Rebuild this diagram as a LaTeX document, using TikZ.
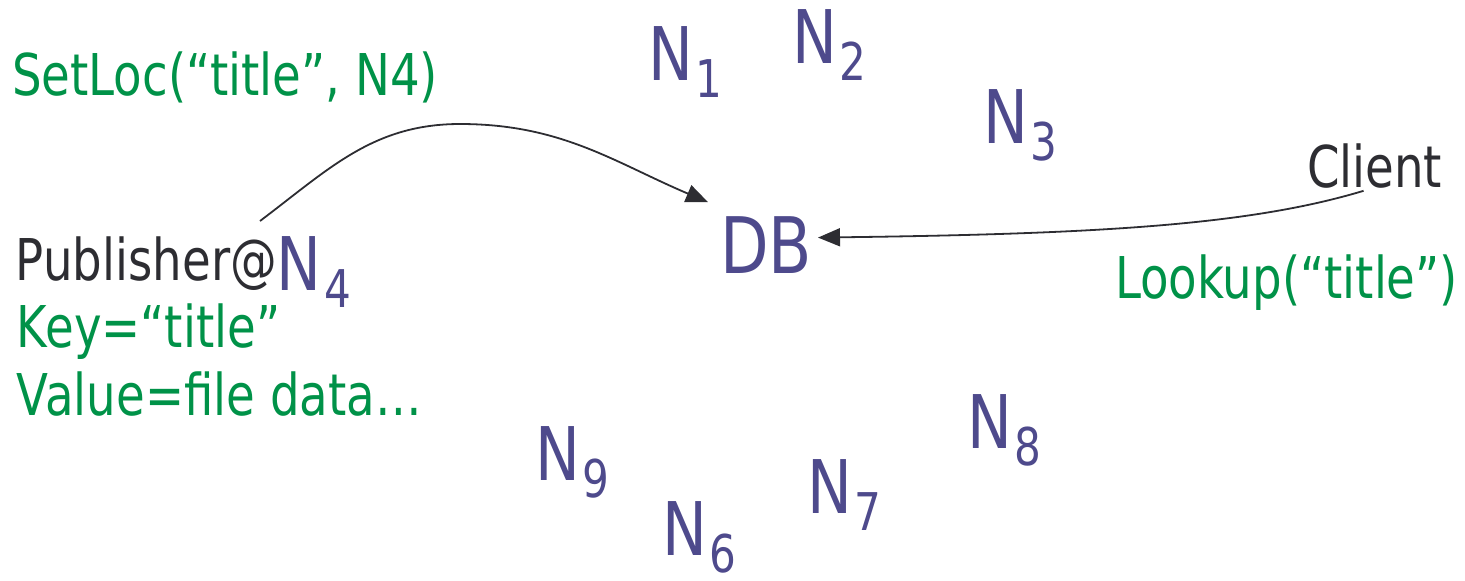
\documentclass[tikz,border=0pt]{standalone}
\usepackage{fontspec}
\setmainfont{DejaVu Sans}[FakeStretch=0.81]
\usetikzlibrary{arrows.meta}
\definecolor{pgreen}{RGB}{0,146,72}
\definecolor{pblue}{RGB}{78,74,140}
\definecolor{pdark}{RGB}{45,45,50}
\newcommand{\txtsize}{\fontsize{28.8}{34}\selectfont}
\newcommand{\nsize}{\fontsize{37}{44}\selectfont}
\newcommand{\subsz}{\fontsize{26}{30}\selectfont}
\newcommand{\Nn}[1]{N\kern1.5pt\raisebox{-8.5pt}{\subsz #1}}
\begin{document}
\begin{tikzpicture}[x=0.5pt,y=-0.5pt,
  lbl/.style={anchor=base west,inner sep=0pt,outer sep=0pt},
  peer/.style={lbl,text=pblue,font=\nsize},
  greentxt/.style={lbl,text=pgreen,font=\txtsize},
  darktxt/.style={lbl,text=pdark,font=\txtsize},
  conn/.style={draw=pdark,line width=0.9pt,-{Triangle[length=11pt,width=9pt]}}]
\useasboundingbox (0,0) rectangle (1465,580);
% peers
\node[peer] (n1) at (648,80) {\Nn{1}};
\node[peer] (n2) at (792,63) {\Nn{2}};
\node[peer] (n3) at (983,143) {\Nn{3}};
\node[peer] (n9) at (535,480) {\Nn{9}};
\node[peer] (n6) at (662,555) {\Nn{6}};
\node[peer] (n7) at (807,513) {\Nn{7}};
\node[peer] (n8) at (967,448) {\Nn{8}};
\node[peer,font=\fontsize{39}{46}\selectfont] (db) at (720,273) {DB};
% texts
\node[greentxt] (setloc) at (12,95) {SetLoc(“title”, N4)};
\node[darktxt] (pub) at (16,280) {Publisher@\raisebox{-5pt}{\color{pblue}\nsize\Nn{4}}};
\node[greentxt] (key) at (17,347) {Key=“title”};
\node[greentxt] (val) at (17,415) {Value=file data…};
\node[darktxt] (client) at (1307,187) {Client};
\node[greentxt] (lookup) at (1115,298) {Lookup(“title”)};
% connectors
\coordinate (pubout) at (260,221);
\coordinate (peak) at (460,124);
\draw[conn] (pubout) to[out=37,in=180] (peak) to[out=0,in=157] ([shift={(-12,-14)}]db.north west);
\draw[conn] ([shift={(-11,3)}]client.south) .. controls (1250,225) and (1100,234) .. ([shift={(6,-7)}]db.east);
\end{tikzpicture}
\end{document}
